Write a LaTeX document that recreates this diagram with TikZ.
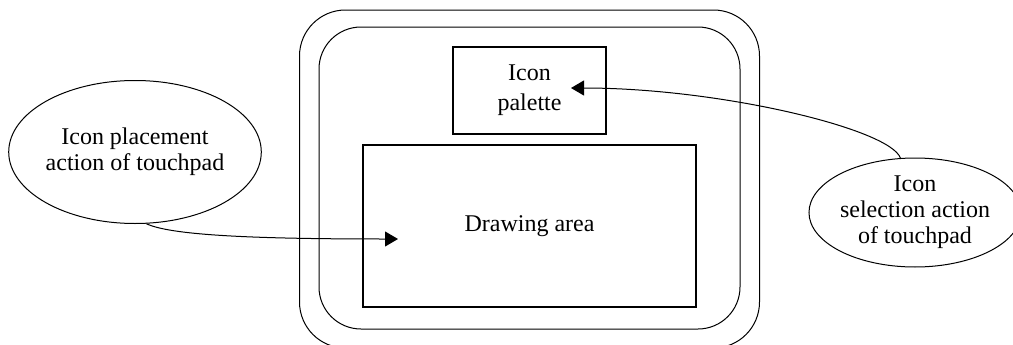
\documentclass[tikz,border=0pt]{standalone}
\usepackage{fontspec}
\setmainfont{Liberation Serif}
\usetikzlibrary{shapes.geometric,arrows.meta}

\begin{document}
\begin{tikzpicture}[x=0.5pt,y=0.5pt,
    font=\fontsize{12}{13}\selectfont,
    screenframe/.style={draw,line width=0.5pt,rounded corners=#1,inner sep=0pt},
    areabox/.style={draw,line width=0.7pt,inner sep=0pt,align=center},
    action/.style={draw,ellipse,line width=0.5pt,inner sep=0pt,align=center},
    tiparrow/.style={-{Triangle[length=6.5pt,width=7.5pt]},line width=0.5pt}]
    \useasboundingbox (0,0) rectangle (1013,344);

    \node[screenframe=23pt,minimum width=230pt,minimum height=169pt] (screen) at (529.5,165) {};
    \node[screenframe=21pt,minimum width=210.5pt,minimum height=151pt] (panel) at (529.5,166) {};

    \node[areabox,minimum width=76.5pt,minimum height=43.5pt,font=\fontsize{12}{15}\selectfont] (palette) at (529.5,253.5) {Icon\\palette};
    \node[areabox,minimum width=166.5pt,minimum height=81pt] (drawarea) at (529.5,118) {Drawing area};

    \node[action,minimum width=122.5pt,minimum height=71.5pt] (place) at (135,192) {Icon placement\\action of touchpad};
    \node[action,minimum width=98pt,minimum height=54.5pt] (select) at (915,131.5) {Icon\\selection action\\of touchpad};

    \coordinate (placeTip) at (398,105);
    \coordinate (selectTip) at (571,256);

    \draw[tiparrow] (place.-81) .. controls (170,109) and (250,105) .. (placeTip);
    \draw[tiparrow] (select.105) .. controls (890,215) and (720,256) .. (selectTip);
\end{tikzpicture}
\end{document}
